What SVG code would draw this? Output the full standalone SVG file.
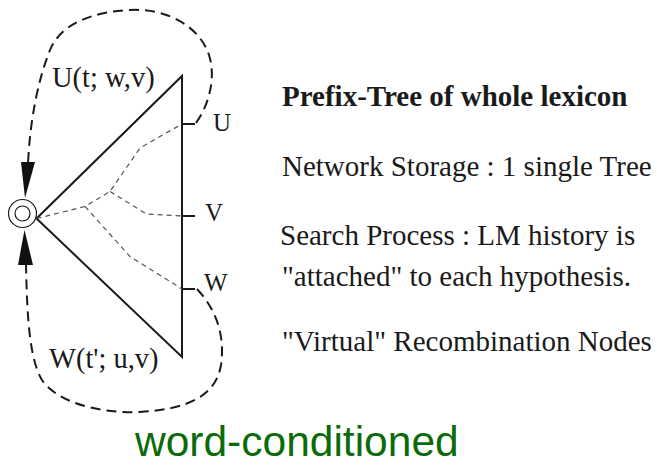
<svg xmlns="http://www.w3.org/2000/svg" width="657" height="465" viewBox="0 0 657 465">
<style>
.serif{font-family:"Liberation Serif","Times New Roman",serif;fill:#1a1a1a}
.lbl{font-size:28.5px}
.tick{font-size:25px}
.txt{font-size:29px}
.solid{fill:none;stroke:#1a1a1a;stroke-width:2}
.loop{fill:none;stroke:#1a1a1a;stroke-width:2;stroke-dasharray:10 6}
.branch{fill:none;stroke:#555;stroke-width:1.2;stroke-dasharray:5 4}
.head{fill:#111}
</style>
<rect width="657" height="465" fill="#fff"/>
<g id="root-node">
<circle cx="22.5" cy="213.5" r="14" fill="none" stroke="#1a1a1a" stroke-width="1.2"/>
<circle cx="22.5" cy="213.5" r="7.5" fill="none" stroke="#1a1a1a" stroke-width="1.2"/>
</g>
<g id="prefix-tree">
<path class="solid" d="M36.5,218.5 L182,76 L182,357 Z" stroke-linejoin="miter"/>
</g>
<g id="leaf-U">
<line class="solid" x1="182" y1="124" x2="195" y2="124"/>
<text class="serif tick" x="213" y="131">U</text>
</g>
<g id="leaf-V">
<line class="solid" x1="182" y1="216" x2="195" y2="216"/>
<text class="serif tick" x="205" y="221">V</text>
</g>
<g id="leaf-W">
<line class="solid" x1="182" y1="289" x2="195" y2="289"/>
<text class="serif tick" x="204" y="291">W</text>
</g>
<g id="connectors">
<path class="branch" d="M36.5,218.5 L85,206.5 L110,191.5 L140,148 L182,124"/>
<path class="branch" d="M110,191.5 L146.5,214 L182,216"/>
<path class="branch" d="M85,206.5 L130,256.5 L182,289"/>
<path class="loop" d="M196,123 C207,108 217,80 209,55 C199,25 165,8 130,10 C90,12 60,25 50,50 C38,80 30,120 28,164"/>
<polygon class="head" points="25,198 21,162 35,162"/>
<path class="loop" d="M197,289 C212,305 226,330 221,365 C216,395 190,409 140,412 C95,414 55,400 42,380 C30,360 27,320 26,264"/>
<polygon class="head" points="24.5,230 18,265 33,265"/>
</g>
<g id="edge-labels">
<text class="serif lbl" x="52" y="87">U(t; w,v)</text>
<text class="serif lbl" x="49" y="368">W(t'; u,v)</text>
</g>
<g id="description">
<text class="serif txt" x="282" y="106" font-weight="bold">Prefix-Tree of whole lexicon</text>
<text class="serif txt" x="282" y="176">Network Storage : 1 single Tree</text>
<text class="serif txt" x="280" y="245">Search Process : LM history is</text>
<text class="serif txt" x="282" y="286">"attached" to each hypothesis.</text>
<text class="serif txt" x="282" y="351">"Virtual" Recombination Nodes</text>
</g>
<text x="135" y="456" font-family="Liberation Sans, Arial, sans-serif" font-size="42.5" fill="#0b6b0b">word-conditioned</text>
</svg>
